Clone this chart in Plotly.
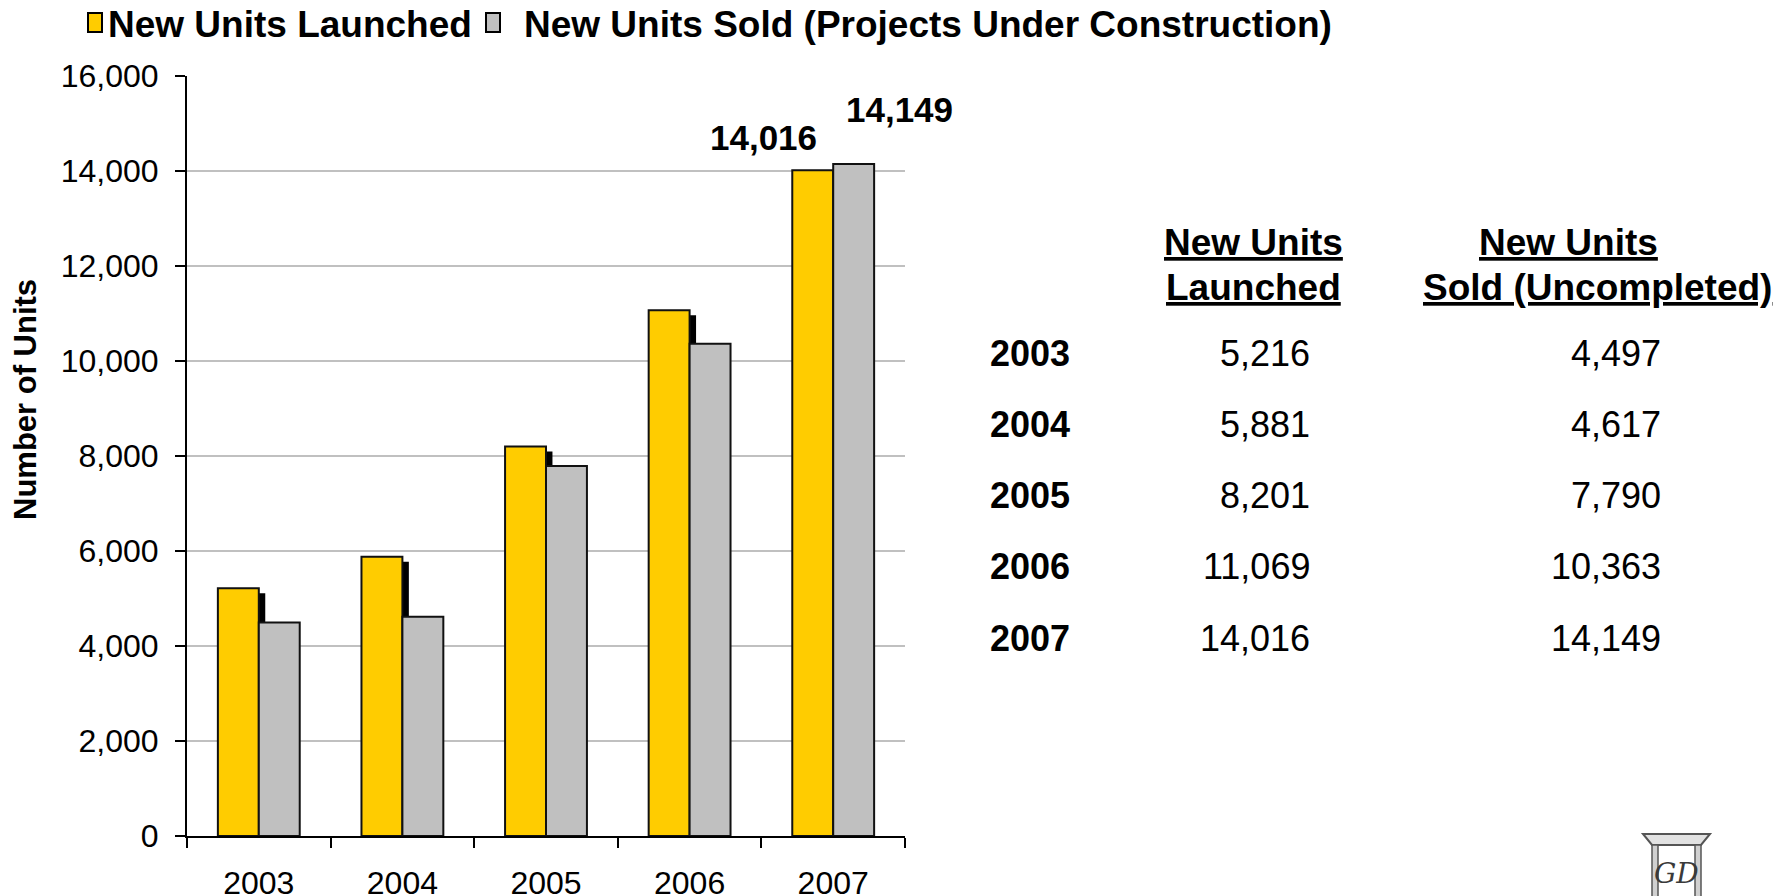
import plotly.graph_objects as go

years = ["2003", "2004", "2005", "2006", "2007"]
launched = [5216, 5881, 8201, 11069, 14016]
sold = [4497, 4617, 7790, 10363, 14149]
y_ticks = [0, 2000, 4000, 6000, 8000, 10000, 12000, 14000, 16000]

# the page body keeps its default 8px margin, so the figure is made smaller
OFF = 8
PAGE_W, PAGE_H = 1786, 896
W, H = PAGE_W - OFF, PAGE_H - OFF
L, R, T, B = 187, 905, 76, 836  # plot area in page pixels

YELLOW = "#FFCC00"
GREY = "#C0C0C0"
FONT = "Liberation Sans, Arial, sans-serif"


def px(x):
    return (x - L) / (R - L)


def py(y):
    return (B - y) / (B - T)


bar_w = 0.285
shadow_dx = 0.045
shadow_dy = 105

fig = go.Figure()

# drop shadow behind the launched bars
fig.add_trace(
    go.Bar(
        x=years,
        y=launched,
        base=[-shadow_dy] * len(years),
        width=bar_w,
        offset=-bar_w + shadow_dx,
        marker=dict(color="black", line=dict(width=0)),
        cliponaxis=False,
        hoverinfo="skip",
        showlegend=False
    )
)

fig.add_trace(
    go.Bar(
        x=years,
        y=launched,
        width=bar_w,
        offset=-bar_w,
        marker=dict(color=YELLOW, line=dict(color="#111111", width=2)),
        name="New Units Launched",
        showlegend=False
    )
)

fig.add_trace(
    go.Bar(
        x=years,
        y=sold,
        width=bar_w,
        offset=0,
        marker=dict(color=GREY, line=dict(color="#111111", width=2)),
        name="New Units Sold (Projects Under Construction)",
        showlegend=False
    )
)

annotations = []
shapes = []

# value labels on the last pair of bars
last = len(years) - 1
annotations.append(dict(
    x=last, y=launched[-1], xref="x", yref="y",
    text=f"<b>{launched[-1]:,}</b>", showarrow=False,
    xanchor="center", yanchor="middle", xshift=-70, yshift=33,
    font=dict(family=FONT, size=35, color="black")
))
annotations.append(dict(
    x=last, y=sold[-1], xref="x", yref="y",
    text=f"<b>{sold[-1]:,}</b>", showarrow=False,
    xanchor="center", yanchor="middle", xshift=66, yshift=54,
    font=dict(family=FONT, size=35, color="black")
))

# legend drawn by hand
legend_items = [
    ("New Units Launched", YELLOW, 88, 106),
    ("New Units Sold (Projects Under Construction)", GREY, 486, 522),
]
for label, color, sq_x, tx in legend_items:
    shapes.append(dict(
        type="rect", xref="paper", yref="paper",
        x0=px(sq_x), x1=px(sq_x + 14), y0=py(32), y1=py(13),
        fillcolor=color, line=dict(color="black", width=2)
    ))
    annotations.append(dict(
        x=px(tx), y=py(24), xref="paper", yref="paper",
        text=f"<b>{label}</b>", showarrow=False,
        xanchor="left", yanchor="middle",
        font=dict(family=FONT, size=37, color="black")
    ))

# y axis title
annotations.append(dict(
    x=px(25), y=py(400), xref="paper", yref="paper",
    text="<b>Number of Units</b>", showarrow=False, textangle=-90,
    xanchor="center", yanchor="middle",
    font=dict(family=FONT, size=31, color="black")
))

# side table
header_rows = [
    ("New Units", "New Units", 243),
    ("Launched", "Sold (Uncompleted)", 287),
]
for left, right, y in header_rows:
    annotations.append(dict(
        x=px(1253), y=py(y), xref="paper", yref="paper",
        text=f"<b>{left}</b>", showarrow=False,
        xanchor="center", yanchor="middle",
        font=dict(family=FONT, size=37, color="black", lineposition="under")
    ))
    annotations.append(dict(
        x=px(1597 if right != "New Units" else 1568), y=py(y), xref="paper", yref="paper",
        text=f"<b>{right}</b>", showarrow=False,
        xanchor="center", yanchor="middle",
        font=dict(family=FONT, size=37, color="black", lineposition="under")
    ))

row_y = [353, 424, 495, 566, 638]
for yr, a, s, y in zip(years, launched, sold, row_y):
    annotations.append(dict(
        x=px(988), y=py(y), xref="paper", yref="paper",
        text=f"<b>{yr}</b>", showarrow=False,
        xanchor="left", yanchor="middle",
        font=dict(family=FONT, size=36, color="black")
    ))
    annotations.append(dict(
        x=px(1312), y=py(y), xref="paper", yref="paper",
        text=f"{a:,}", showarrow=False,
        xanchor="right", yanchor="middle",
        font=dict(family=FONT, size=36, color="black")
    ))
    annotations.append(dict(
        x=px(1663), y=py(y), xref="paper", yref="paper",
        text=f"{s:,}", showarrow=False,
        xanchor="right", yanchor="middle",
        font=dict(family=FONT, size=36, color="black")
    ))

# small logo, bottom right corner
lx0, lx1 = 1643, 1710
shapes.append(dict(
    type="path", xref="paper", yref="paper",
    path=(f"M {px(lx0)},{py(834)} L {px(lx1)},{py(834)} "
          f"L {px(lx1 - 9)},{py(845)} L {px(lx0 + 9)},{py(845)} Z"),
    fillcolor="#e2e2e2", line=dict(color="#555555", width=2)
))
for x0 in (lx0 + 9, lx1 - 15):
    shapes.append(dict(
        type="rect", xref="paper", yref="paper",
        x0=px(x0), x1=px(x0 + 6), y0=py(900), y1=py(845),
        fillcolor="#d0d0d0", line=dict(color="#555555", width=1.5)
    ))
annotations.append(dict(
    x=px((lx0 + lx1) / 2), y=py(873), xref="paper", yref="paper",
    text="<i>GD</i>", showarrow=False,
    xanchor="center", yanchor="middle",
    font=dict(family="DejaVu Serif, serif", size=28, color="#3a3a3a")
))

fig.update_layout(
    width=W,
    height=H,
    barmode="overlay",
    template="plotly_white",
    paper_bgcolor="white",
    plot_bgcolor="white",
    margin=dict(l=L - OFF, r=PAGE_W - R, t=T - OFF, b=PAGE_H - B, pad=0),
    font=dict(family=FONT, color="black"),
    showlegend=False,
    annotations=annotations,
    shapes=shapes,
    xaxis=dict(
        type="category",
        range=[-0.5, 4.5],
        automargin=False,
        showline=True,
        linecolor="black",
        linewidth=2,
        ticks="outside",
        tickson="boundaries",
        ticklen=10,
        tickwidth=2,
        tickcolor="black",
        showgrid=False,
        tickfont=dict(family=FONT, size=32, color="black"),
        ticklabelstandoff=18
    ),
    yaxis=dict(
        range=[0, 16000],
        tickvals=y_ticks,
        tickformat=",",
        automargin=False,
        showline=True,
        linecolor="black",
        linewidth=2,
        ticks="outside",
        ticklen=10,
        tickwidth=2,
        tickcolor="black",
        showgrid=True,
        gridcolor=GREY,
        gridwidth=2,
        zeroline=False,
        tickfont=dict(family=FONT, size=32, color="black"),
        ticklabelstandoff=10
    )
)

fig.write_html("out.html")
